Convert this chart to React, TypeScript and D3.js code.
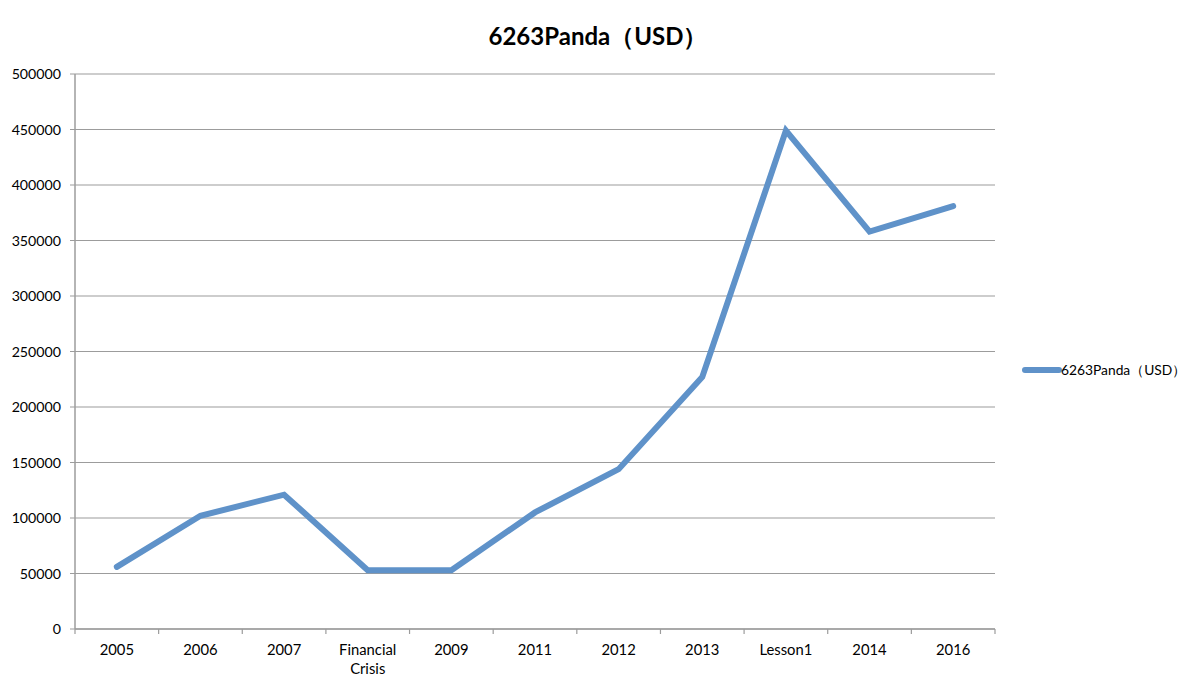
import React from "react";
import * as d3 from "d3";

const categories = ["2005", "2006", "2007", "Financial\nCrisis", "2009", "2011", "2012", "2013", "Lesson1", "2014", "2016"];
const values = [56000, 102000, 121000, 53000, 53000, 105000, 144000, 227000, 449000, 358000, 381000];
const yTicks = [0, 50000, 100000, 150000, 200000, 250000, 300000, 350000, 400000, 450000, 500000];
const seriesName = "6263Panda（USD）";
const title = "6263Panda（USD）";

const W = 1200, H = 687;
const left = 75, right = 995, top = 74, bottom = 629;
const font = "Lato, 'Open Sans', sans-serif";
const lineColor = "#5f92c9";
const gridColor = "#9c9c9c";

export default function App() {
  const x = d3.scaleBand<string>().domain(categories).range([left, right]).paddingInner(0).paddingOuter(0);
  const y = d3.scaleLinear().domain([0, 500000]).range([bottom, top]);
  const line = d3.line<number>()
    .x((_, i) => (x(categories[i]) as number) + x.bandwidth() / 2)
    .y((d) => y(d));
  const path = line(values) || "";
  const tickXs = categories.map((c) => x(c) as number).concat([right]);

  return (
    <svg width={W} height={H} style={{ position: "absolute", left: 0, top: 0, background: "#fff" }}>
      <rect width={W} height={H} fill="#fff" />
      <text x={598} y={45} textAnchor="middle" fontFamily={font} fontWeight="bold" fontSize={24} fill="#000">{title}</text>
      {yTicks.map((t) => (
        <g key={t}>
          <line x1={left - 5} x2={right} y1={y(t)} y2={y(t)} stroke={gridColor} strokeWidth={1.2} />
          <text x={61} y={y(t) + 5} textAnchor="end" fontFamily={font} fontSize={14.2} fill="#000">{t}</text>
        </g>
      ))}
      <line x1={left} x2={left} y1={top} y2={bottom} stroke={gridColor} strokeWidth={1.5} />
      <line x1={left} x2={right} y1={bottom} y2={bottom} stroke={gridColor} strokeWidth={1.5} />
      {tickXs.map((tx, i) => (
        <line key={i} x1={tx} x2={tx} y1={bottom} y2={bottom + 5} stroke={gridColor} strokeWidth={1.2} />
      ))}
      {categories.map((c) => {
        const cx = (x(c) as number) + x.bandwidth() / 2;
        const lines = c.split("\n");
        return (
          <text key={c} x={cx} y={655} textAnchor="middle" fontFamily={font} fontSize={14.8} fill="#000">
            {lines.map((l, j) => (
              <tspan key={j} x={cx} dy={j === 0 ? 0 : 19}>{l}</tspan>
            ))}
          </text>
        );
      })}
      <path d={path} fill="none" stroke={lineColor} strokeWidth={6} strokeLinejoin="miter" strokeLinecap="round" />
      <line x1={1025} x2={1059} y1={370} y2={370} stroke={lineColor} strokeWidth={6} strokeLinecap="round" />
      <text x={1061} y={375} fontFamily={font} fontSize={13.8} fill="#000">{seriesName}</text>
    </svg>
  );
}
